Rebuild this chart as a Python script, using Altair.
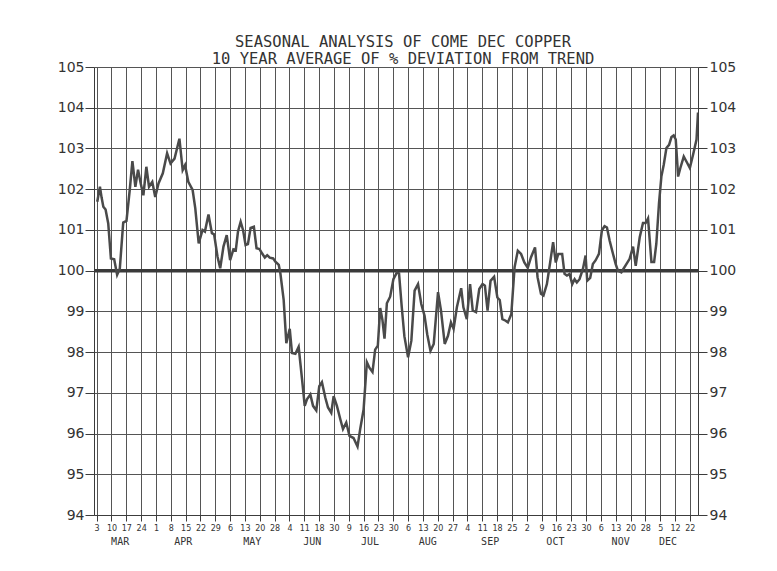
import json
import altair as alt
import pandas as pd

TITLE = ["SEASONAL ANALYSIS OF COME DEC COPPER",
         "10 YEAR AVERAGE OF % DEVIATION FROM TREND"]

DAY_LABELS = ["3", "10", "17", "24", "1", "8", "15", "22", "29", "6", "13", "20", "28",
              "4", "11", "18", "30", "9", "16", "23", "30", "6", "13", "20", "27",
              "4", "11", "18", "25", "2", "9", "16", "23", "30", "6", "13", "20", "28",
              "5", "12", "22"]
MONTHS = ["MAR", "APR", "MAY", "JUN", "JUL", "AUG", "SEP", "OCT", "NOV", "DEC"]
MONTH_POS = [1.55, 5.8, 10.46, 14.5, 18.4, 22.3, 26.5, 30.9, 35.3, 38.5]
Y_TICKS = [94, 95, 96, 97, 98, 99, 100, 101, 102, 103, 104, 105]

# week position (0 = Mar 3 tick) and % of trend
WEEK = [0.04, 0.22, 0.33, 0.45, 0.60, 0.78, 0.96, 1.18, 1.38, 1.56, 1.79, 2.01, 2.23, 2.41,
        2.61, 2.79, 2.97, 3.15, 3.35, 3.53, 3.75, 3.95, 4.17, 4.46, 4.75, 4.98, 5.25, 5.58,
        5.80, 5.96, 6.18, 6.47, 6.65, 6.88, 7.14, 7.30, 7.54, 7.77, 7.92, 8.15, 8.33, 8.55,
        8.77, 9.00, 9.22, 9.38, 9.53, 9.71, 9.87, 10.04, 10.20, 10.38, 10.60, 10.78, 10.98,
        11.16, 11.34, 11.50, 11.67, 11.90, 12.05,
        12.28, 12.39, 12.61, 12.79, 13.02, 13.17, 13.40, 13.62, 13.85, 14.03, 14.18, 14.41,
        14.59, 14.81, 15.01, 15.19, 15.42, 15.60, 15.82, 15.98, 16.20, 16.43, 16.61, 16.83,
        17.05, 17.32, 17.59, 17.77, 18.00, 18.22, 18.40, 18.60, 18.78, 18.96, 19.12, 19.27,
        19.41, 19.57, 19.79, 20.01, 20.24, 20.39, 20.57, 20.75,
        21.00, 21.22, 21.44, 21.67, 21.89, 22.11, 22.29, 22.51, 22.73, 23.02, 23.22, 23.47,
        23.69, 23.89, 24.07, 24.29, 24.58, 24.73, 24.96, 25.18, 25.36, 25.58, 25.80, 26.02,
        26.18, 26.36, 26.56, 26.80, 27.02, 27.18, 27.36, 27.58, 27.73, 27.96, 28.18, 28.40,
        28.62, 28.84, 29.07, 29.29, 29.56, 29.73, 29.96, 30.13, 30.36, 30.58, 30.78, 30.96,
        31.13,
        31.39, 31.55, 31.71, 31.89, 32.07, 32.23, 32.38, 32.56, 32.79, 32.97, 33.08, 33.28,
        33.46, 33.64, 33.87, 34.07, 34.25, 34.41, 34.59, 34.82, 35.00, 35.15, 35.38, 35.72,
        35.94, 36.17, 36.35, 36.62, 36.84, 37.02, 37.18, 37.41, 37.59, 37.74, 37.92, 38.08,
        38.24, 38.42, 38.60, 38.76, 38.91, 39.05, 39.21, 39.36, 39.59, 39.77, 40.00, 40.22,
        40.45, 40.55]
VALUE = [101.69, 102.06, 101.8, 101.57, 101.5, 101.16, 100.3, 100.28, 99.9, 100.05, 101.18,
         101.22, 101.98, 102.69, 102.06, 102.48, 102.14, 101.85, 102.55, 102.06, 102.18,
         101.81, 102.14, 102.39, 102.88, 102.63, 102.75, 103.24, 102.47, 102.59, 102.18,
         101.98, 101.53, 100.67, 101.0, 100.96, 101.38, 100.92, 100.89, 100.34, 100.06,
         100.59, 100.87, 100.26, 100.52, 100.5, 100.96, 101.2, 101.0, 100.63, 100.65, 101.05,
         101.08, 100.55, 100.53, 100.42, 100.32, 100.38, 100.32, 100.3, 100.22,
         100.14, 99.93, 99.28, 98.22, 98.57, 97.98, 97.96, 98.13, 97.33, 96.68, 96.84, 96.96,
         96.68, 96.57, 97.16, 97.26, 96.88, 96.64, 96.51, 96.92, 96.68, 96.35, 96.11, 96.27,
         95.94, 95.89, 95.68, 96.11, 96.59, 97.75, 97.61, 97.51, 98.06, 98.16, 99.08, 98.79,
         98.33, 99.2, 99.36, 99.79, 99.95, 99.93, 99.12, 98.39,
         97.87, 98.28, 99.51, 99.67, 99.18, 98.89, 98.44, 98.03, 98.2, 99.47, 99.02, 98.2,
         98.4, 98.73, 98.57, 99.1, 99.57, 99.1, 98.81, 99.67, 99.02, 98.98, 99.55, 99.67,
         99.63, 99.02, 99.75, 99.85, 99.34, 99.28, 98.81, 98.77, 98.73, 98.93, 100.08, 100.49,
         100.41, 100.2, 100.07, 100.33, 100.57, 99.84, 99.43, 99.39, 99.67, 100.2, 100.7,
         100.2, 100.41,
         100.41, 99.92, 99.88, 99.92, 99.67, 99.79, 99.71, 99.79, 100.04, 100.37, 99.75,
         99.82, 100.16, 100.25, 100.41, 100.99, 101.09, 101.06, 100.74, 100.41, 100.16, 100.0,
         99.96, 100.16, 100.29, 100.59, 100.12, 100.82, 101.17, 101.17, 101.28, 100.21,
         100.21, 100.66, 101.65, 102.31, 102.6, 103.01, 103.09, 103.28, 103.32, 103.22,
         102.31, 102.52, 102.8, 102.68, 102.52, 102.85, 103.22, 103.88]

BASELINE = [100]

df = pd.DataFrame({"w": WEEK, "v": VALUE})
base_df = pd.DataFrame({"v": BASELINE})
month_df = pd.DataFrame({"w": MONTH_POS, "m": MONTHS})

INK = "#3c3c3c"
xscale = alt.Scale(domain=[-0.18, 40.55], nice=False, zero=False)
yscale = alt.Scale(domain=[94, 105], nice=False, zero=False)

day_axis = alt.Axis(
    orient="bottom",
    values=list(range(len(DAY_LABELS))),
    labelExpr=f"{json.dumps(DAY_LABELS)}[round(datum.value)]",
    title=None, grid=True, gridColor="#555", gridWidth=1, gridOpacity=1,
    tickSize=6, tickColor=INK, labelPadding=3, labelFont="DejaVu Sans", labelFontSize=8,
    labelColor="#333", domainColor=INK, labelFlush=False, labelOverlap=False,
)
month_axis = alt.Axis(
    orient="bottom",
    values=MONTH_POS,
    labelExpr=f"{json.dumps(MONTHS)}[indexof({json.dumps(MONTH_POS)}, datum.value)]",
    title=None, grid=False, ticks=False, domain=False, offset=19, labelPadding=2,
    labelFont="DejaVu Sans Mono", labelFontSize=10, labelColor="#333",
    labelFlush=False, labelOverlap=False,
)
left_axis = alt.Axis(
    orient="left",
    values=Y_TICKS, title=None, grid=True, gridColor="#555", gridWidth=1, gridOpacity=1,
    tickSize=9, tickColor=INK, labelPadding=1, labelFont="DejaVu Sans", labelFontSize=14,
    labelColor="#333", domainColor=INK, minExtent=40, maxExtent=40, labelFlush=False,
)
right_axis = alt.Axis(
    orient="right", values=Y_TICKS, title=None, grid=False,
    tickSize=9, tickColor=INK, labelPadding=2, labelFont="DejaVu Sans", labelFontSize=14,
    labelColor="#333", domainColor=INK, labelFlush=False,
)

baseline = alt.Chart(base_df).mark_rule(color="#3a3a3a", strokeWidth=3.5).encode(
    y=alt.Y("v:Q", scale=yscale, axis=right_axis)
)
line = alt.Chart(df).mark_line(color="#4a4a4a", strokeWidth=2.5, clip=True).encode(
    x=alt.X("w:Q", scale=xscale, axis=day_axis),
    y=alt.Y("v:Q", scale=yscale, axis=left_axis),
)
months = alt.Chart(month_df).mark_point(opacity=0).encode(
    x=alt.X("w:Q", scale=xscale, axis=month_axis)
)

chart = (
    alt.layer(baseline, line, months)
    .resolve_axis(x="independent", y="independent")
    .properties(
        width=604, height=448,
        padding={"left": 46, "top": 26, "right": 5, "bottom": 5},
        title=alt.TitleParams(text=TITLE, font="DejaVu Sans Mono", fontSize=15.5,
                              fontWeight="normal", color="#333", lineHeight=17,
                              offset=-7, dx=7, anchor="middle"),
    )
    .configure_view(stroke=INK, strokeWidth=1)
    .configure(background="white")
)

chart.save("out.html", embed_options={"renderer": "svg", "actions": False})
